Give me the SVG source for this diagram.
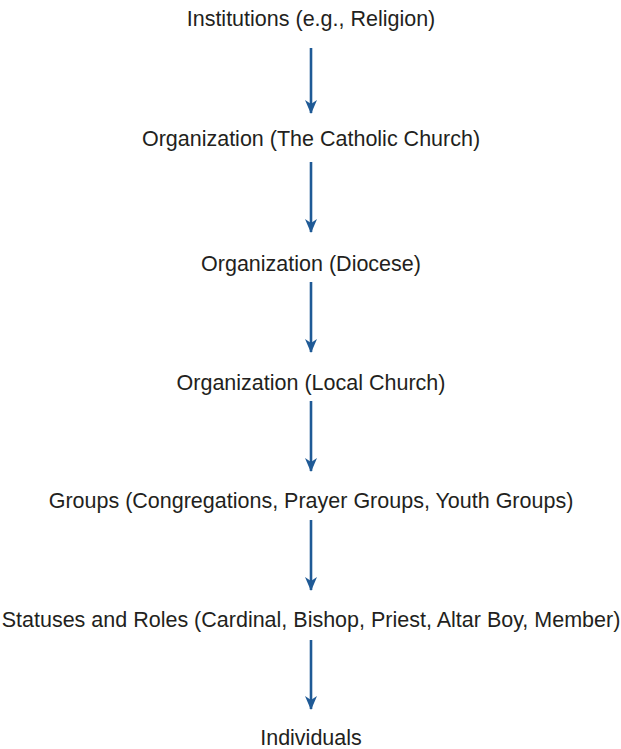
<svg xmlns="http://www.w3.org/2000/svg" width="621" height="749" viewBox="0 0 621 749">
<defs>
<style>
.t{font-family:"Liberation Sans",Arial,sans-serif;font-size:21.5px;fill:#231f20;text-anchor:middle}
.c{stroke:#1f5a96;stroke-width:2.6;fill:none}
</style>
<marker id="ah" viewBox="0 0 14 12" refX="13" refY="6" markerWidth="14" markerHeight="12" markerUnits="userSpaceOnUse" orient="auto">
<path d="M0,0 L14,6 L0,12 L4,6 Z" fill="#1f5a96"/>
</marker>
</defs>
<rect width="621" height="749" fill="#fff"/>
<g id="n1"><text class="t" x="311" y="26">Institutions (e.g., Religion)</text></g>
<g id="n2"><text class="t" x="311" y="146">Organization (The Catholic Church)</text></g>
<g id="n3"><text class="t" x="311" y="271">Organization (Diocese)</text></g>
<g id="n4"><text class="t" x="311" y="390">Organization (Local Church)</text></g>
<g id="n5"><text class="t" x="311" y="508">Groups (Congregations, Prayer Groups, Youth Groups)</text></g>
<g id="n6"><text class="t" x="311" y="627">Statuses and Roles (Cardinal, Bishop, Priest, Altar Boy, Member)</text></g>
<g id="n7"><text class="t" x="311" y="745">Individuals</text></g>
<g id="connectors">
<line class="c" x1="311" y1="48" x2="311" y2="113" marker-end="url(#ah)"/>
<line class="c" x1="311" y1="162" x2="311" y2="232" marker-end="url(#ah)"/>
<line class="c" x1="311" y1="282" x2="311" y2="352" marker-end="url(#ah)"/>
<line class="c" x1="311" y1="401" x2="311" y2="471" marker-end="url(#ah)"/>
<line class="c" x1="311" y1="520" x2="311" y2="590" marker-end="url(#ah)"/>
<line class="c" x1="311" y1="640" x2="311" y2="709" marker-end="url(#ah)"/>
</g>
</svg>
